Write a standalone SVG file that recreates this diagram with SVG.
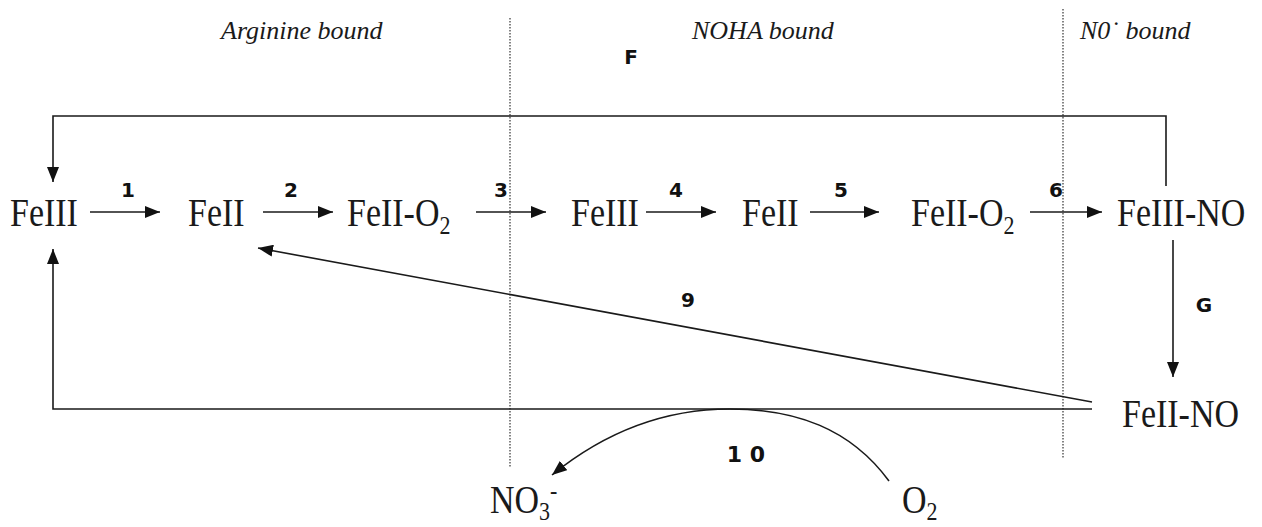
<svg xmlns="http://www.w3.org/2000/svg" width="1262" height="527" viewBox="0 0 1262 527">
<style>
.sp{font-family:"Liberation Serif","Times New Roman",serif;font-size:34px;fill:#1a1a1a}
.sub{font-size:22px}
.hd{font-family:"Liberation Serif","Times New Roman",serif;font-style:italic;font-size:26px;fill:#1a1a1a}
.lb{font-family:"DejaVu Sans","Liberation Sans",sans-serif;font-weight:bold;font-size:20px;fill:#111;text-anchor:middle}
.ln{fill:none;stroke:#1a1a1a;stroke-width:1.6}
.ar{fill:none;stroke:#1a1a1a;stroke-width:1.6;marker-end:url(#ah)}
.dot{stroke:#333;stroke-width:1.2;stroke-dasharray:1.5 1.5;fill:none}
</style>
<defs>
<marker id="ah" viewBox="0 0 15 12" refX="15" refY="6" markerWidth="15" markerHeight="12" markerUnits="userSpaceOnUse" orient="auto">
<path d="M0,0 L15,6 L0,12 z" fill="#111"/>
</marker>
</defs>
<rect width="1262" height="527" fill="#fff"/>

<g id="regions">
<line class="dot" x1="510" y1="18" x2="510" y2="468"/>
<line class="dot" x1="1063" y1="9" x2="1063" y2="458"/>
<text class="hd" x="221" y="39">Arginine bound</text>
<text class="hd" x="692" y="39">NOHA bound</text>
<text class="hd" x="1080" y="39">N0˙ bound</text>
</g>

<g id="connectors">
<line class="ar" x1="90" y1="212" x2="160" y2="212"/>
<line class="ar" x1="263" y1="212" x2="333" y2="212"/>
<line class="ar" x1="476" y1="212" x2="546" y2="212"/>
<line class="ar" x1="646" y1="212" x2="716" y2="212"/>
<line class="ar" x1="810" y1="212" x2="879" y2="212"/>
<line class="ar" x1="1030" y1="212" x2="1102" y2="212"/>
<polyline class="ar" points="1166,186 1166,116 53,116 53,182"/>
<line class="ar" x1="1173" y1="240" x2="1173" y2="377"/>
<line class="ar" x1="1092" y1="402" x2="258" y2="248"/>
<polyline class="ar" points="1092,409 53,409 53,249"/>
<path class="ar" d="M889,481 C850,428 795,409 730,409 C660,409 600,436 552,475"/>
<text class="lb" x="128" y="197">1</text>
<text class="lb" x="291" y="197">2</text>
<text class="lb" x="501" y="197">3</text>
<text class="lb" x="676" y="197">4</text>
<text class="lb" x="841" y="197">5</text>
<text class="lb" x="1056" y="197">6</text>
<text class="lb" x="631" y="64">F</text>
<text class="lb" x="1204" y="312">G</text>
<text class="lb" x="688" y="307">9</text>
<text class="lb" x="746" y="462" style="font-size:22px">1 0</text>
</g>

<g id="n-feIII-a" transform="translate(10 226) scale(1 1.15)"><text class="sp">FeIII</text></g>
<g id="n-feII-a" transform="translate(188 226) scale(1 1.15)"><text class="sp">FeII</text></g>
<g id="n-feIIO2-a" transform="translate(347 226) scale(1 1.15)"><text class="sp">FeII-O<tspan class="sub" dy="7">2</tspan></text></g>
<g id="n-feIII-b" transform="translate(571 226) scale(1 1.15)"><text class="sp">FeIII</text></g>
<g id="n-feII-b" transform="translate(742 226) scale(1 1.15)"><text class="sp">FeII</text></g>
<g id="n-feIIO2-b" transform="translate(911 226) scale(1 1.15)"><text class="sp">FeII-O<tspan class="sub" dy="7">2</tspan></text></g>
<g id="n-feIIINO" transform="translate(1117 226) scale(1 1.15)"><text class="sp">FeIII-NO</text></g>
<g id="n-feIINO" transform="translate(1122 427) scale(1 1.15)"><text class="sp">FeII-NO</text></g>
<g id="n-no3" transform="translate(490 513) scale(1 1.15)"><text class="sp">NO<tspan class="sub" dy="6">3</tspan><tspan class="sub" dy="-18">-</tspan></text></g>
<g id="n-o2" transform="translate(902 513) scale(1 1.15)"><text class="sp">O<tspan class="sub" dy="6">2</tspan></text></g>
</svg>
